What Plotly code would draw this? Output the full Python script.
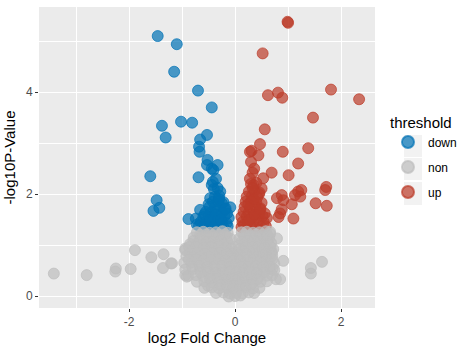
import plotly.graph_objects as go

# ---------------- data ----------------
down_x = [-1.46, -1.10, -1.15, -0.70, -0.44, -1.38, -1.31, -1.02, -0.81, -0.53,
          -0.66, -0.68, -0.67, -0.52, -1.60, -1.48, -1.54, -1.43, -0.88, -0.69,
          -0.44, -0.33, -0.53, -0.41, -0.44, -0.28, -0.47, -0.25, -0.09, -0.66,
          -0.42,
          -0.62, -0.52, -0.42, -0.32, -0.22, -0.14,
          -0.65, -0.55, -0.45, -0.35, -0.25, -0.16,
          -0.60, -0.50, -0.40, -0.30, -0.20, -0.12,
          -0.55, -0.45, -0.35, -0.25, -0.15,
          -0.48, -0.38, -0.28, -0.18,
          -0.42, -0.32, -0.22,
          -0.38, -0.30, -0.40, -0.33, -0.36, -0.72, -0.58,
          -0.74, -0.68, -0.57, -0.47, -0.37, -0.27, -0.19, -0.50, -0.30]
down_y = [5.10, 4.94, 4.40, 4.03, 3.70, 3.34, 3.11, 3.42, 3.40, 3.16,
          3.07, 2.93, 2.83, 2.67, 2.35, 1.88, 1.67, 1.73, 1.51, 2.33,
          2.50, 2.57, 2.57, 2.47, 2.18, 2.05, 1.92, 1.82, 1.74, 1.69,
          2.24,
          1.35, 1.33, 1.36, 1.34, 1.35, 1.37,
          1.45, 1.46, 1.44, 1.47, 1.45, 1.43,
          1.55, 1.56, 1.54, 1.55, 1.57, 1.53,
          1.65, 1.64, 1.66, 1.63, 1.62,
          1.75, 1.74, 1.76, 1.72,
          1.85, 1.86, 1.84,
          1.95, 1.97, 2.10, 2.12, 2.30, 1.40, 1.60,
          1.52, 1.38, 1.40, 1.50, 1.60, 1.50, 1.70, 1.80, 1.90]

up_x = [0.99, 1.00, 0.52, 0.62, 0.81, 0.89, 1.81, 2.34, 1.47, 0.56,
        0.47, 0.31, 0.44, 0.90, 1.38, 1.19, 0.30, 0.33, 0.69, 1.01,
        0.53, 0.50, 0.35, 1.72, 1.70, 1.19, 1.25, 1.13, 0.88, 0.79,
        0.91, 1.23, 1.07, 1.52, 1.73, 0.88, 0.85, 1.10, 0.82, 0.28,
        0.12, 0.20, 0.30, 0.40, 0.50, 0.58,
        0.14, 0.24, 0.34, 0.44, 0.54,
        0.12, 0.22, 0.32, 0.42, 0.52, 0.60,
        0.16, 0.26, 0.36, 0.46, 0.56,
        0.18, 0.28, 0.38, 0.48,
        0.20, 0.30, 0.40, 0.50,
        0.22, 0.32, 0.42,
        0.26, 0.36, 0.46,
        0.30, 0.40, 0.36, 0.28,
        0.17, 0.27, 0.37, 0.47, 0.25, 0.35, 0.45, 0.33]
up_y = [5.38, 5.36, 4.76, 3.94, 3.99, 3.89, 4.05, 3.86, 3.50, 3.27,
        2.98, 2.85, 2.76, 2.83, 2.90, 2.60, 2.63, 2.42, 2.42, 2.37,
        2.31, 2.11, 2.18, 2.14, 2.08, 2.05, 2.08, 1.98, 1.98, 1.92,
        1.88, 1.95, 1.80, 1.82, 1.77, 1.70, 1.62, 1.52, 1.55, 2.83,
        1.35, 1.34, 1.36, 1.33, 1.35, 1.37,
        1.45, 1.46, 1.44, 1.47, 1.45,
        1.55, 1.56, 1.54, 1.55, 1.57, 1.53,
        1.65, 1.64, 1.66, 1.63, 1.62,
        1.75, 1.74, 1.76, 1.72,
        1.85, 1.86, 1.84, 1.83,
        1.95, 1.97, 1.94,
        2.05, 2.06, 2.03,
        2.20, 2.22, 2.50, 2.30,
        1.40, 1.50, 1.60, 1.70, 1.80, 1.90, 2.00, 2.12]

non_x = [-3.42, -2.80, -2.25, -2.26, -1.97, -1.89, -1.58, -1.35, -1.36, -1.21,
         -0.94, -0.91, -0.51, 1.64, 1.43, 1.43, 0.91, 0.85, 0.77, 0.71,
         0.69, 0.79, 0.66, -1.19, -0.94,
         -0.72, -0.60, -0.48, -0.36, -0.24, -0.14, 0.12, 0.22, 0.34, 0.46, 0.58, 0.66,
         -0.78, -0.65, -0.52, -0.40, -0.28, -0.16, -0.08, 0.08, 0.18, 0.30, 0.42, 0.54, 0.64,
         -0.85, -0.72, -0.60, -0.46, -0.33, -0.20, -0.08, 0.07, 0.18, 0.30, 0.42, 0.55, 0.68,
         -0.94, -0.80, -0.66, -0.52, -0.38, -0.25, -0.12, -0.04, 0.04, 0.14, 0.26, 0.38, 0.50, 0.62, 0.72,
         -0.92, -0.78, -0.64, -0.50, -0.36, -0.22, -0.10, 0.00, 0.10, 0.22, 0.34, 0.46, 0.58, 0.70,
         -0.96, -0.82, -0.68, -0.54, -0.40, -0.26, -0.12, 0.02, 0.14, 0.28, 0.40, 0.52, 0.64, 0.74,
         -0.94, -0.80, -0.66, -0.52, -0.38, -0.24, -0.10, 0.04, 0.16, 0.30, 0.42, 0.54, 0.66, 0.74,
         -0.88, -0.74, -0.60, -0.46, -0.32, -0.18, -0.06, 0.06, 0.18, 0.32, 0.46, 0.60, 0.70,
         -0.72, -0.58, -0.44, -0.30, -0.16, -0.04, 0.08, 0.20, 0.34, 0.48, 0.60,
         -0.58, -0.44, -0.30, -0.16, -0.04, 0.08, 0.20, 0.34, 0.46,
         -0.36, -0.22, -0.10, 0.02, 0.14, 0.26, 0.36,
         -0.12, 0.00, 0.10,
         # in-between rows to fill the core of the cloud
         -0.66, -0.54, -0.42, -0.30, -0.19, 0.17, 0.28, 0.40, 0.52, 0.61,
         -0.79, -0.66, -0.53, -0.40, -0.27, -0.14, 0.13, 0.24, 0.36, 0.48, 0.60,
         -0.87, -0.73, -0.59, -0.45, -0.31, -0.18, -0.07, 0.08, 0.20, 0.32, 0.44, 0.56, 0.67,
         -0.85, -0.71, -0.57, -0.43, -0.29, -0.16, -0.05, 0.08, 0.21, 0.34, 0.46, 0.58, 0.69,
         -0.87, -0.73, -0.59, -0.45, -0.31, -0.17, -0.03, 0.10, 0.23, 0.36, 0.48, 0.60, 0.70,
         -0.81, -0.67, -0.53, -0.39, -0.25, -0.12, 0.00, 0.12, 0.25, 0.39, 0.53, 0.65,
         -0.65, -0.51, -0.37, -0.23, -0.10, 0.02, 0.14, 0.27, 0.41, 0.54,
         -0.47, -0.33, -0.19, -0.06, 0.06, 0.19, 0.31, 0.42,
         -0.28, -0.16, -0.04, 0.08, 0.20, 0.30]
non_y = [0.44, 0.41, 0.54, 0.48, 0.53, 0.90, 0.76, 0.82, 0.55, 0.64,
         0.93, 0.38, 0.20, 0.67, 0.55, 0.44, 0.69, 0.33, 0.33, 0.54,
         0.87, 1.13, 1.26, 0.64, 0.41,
         1.25, 1.26, 1.24, 1.25, 1.27, 1.24, 1.25, 1.26, 1.24, 1.25, 1.27, 1.22,
         1.15, 1.14, 1.16, 1.15, 1.13, 1.16, 1.12, 1.13, 1.15, 1.16, 1.14, 1.15, 1.13,
         1.02, 1.03, 1.01, 1.02, 1.04, 1.02, 0.98, 0.99, 1.02, 1.03, 1.01, 1.02, 1.04,
         0.90, 0.91, 0.89, 0.90, 0.92, 0.90, 0.88, 0.84, 0.85, 0.89, 0.90, 0.91, 0.89, 0.90, 0.92,
         0.78, 0.77, 0.79, 0.78, 0.76, 0.78, 0.77, 0.74, 0.76, 0.78, 0.79, 0.77, 0.78, 0.79,
         0.65, 0.66, 0.64, 0.65, 0.67, 0.65, 0.64, 0.63, 0.65, 0.66, 0.64, 0.65, 0.66, 0.64,
         0.52, 0.53, 0.51, 0.52, 0.54, 0.52, 0.51, 0.50, 0.52, 0.53, 0.51, 0.52, 0.53, 0.51,
         0.40, 0.41, 0.39, 0.40, 0.42, 0.40, 0.39, 0.38, 0.40, 0.41, 0.39, 0.40, 0.41,
         0.28, 0.29, 0.27, 0.28, 0.29, 0.27, 0.28, 0.29, 0.27, 0.28, 0.29,
         0.16, 0.17, 0.15, 0.16, 0.15, 0.16, 0.17, 0.15, 0.16,
         0.06, 0.07, 0.05, 0.06, 0.05, 0.07, 0.06,
         -0.01, 0.00, 0.01,
         1.20, 1.21, 1.19, 1.20, 1.21, 1.20, 1.19, 1.21, 1.20, 1.19,
         1.08, 1.09, 1.07, 1.08, 1.09, 1.06, 1.07, 1.08, 1.09, 1.07, 1.08,
         0.96, 0.97, 0.95, 0.96, 0.97, 0.95, 0.93, 0.92, 0.95, 0.96, 0.97, 0.95, 0.96,
         0.84, 0.85, 0.83, 0.84, 0.85, 0.83, 0.82, 0.81, 0.83, 0.84, 0.85, 0.83, 0.84,
         0.71, 0.72, 0.70, 0.71, 0.72, 0.70, 0.69, 0.69, 0.71, 0.72, 0.70, 0.71, 0.72,
         0.58, 0.59, 0.57, 0.58, 0.59, 0.57, 0.56, 0.57, 0.58, 0.59, 0.57, 0.58,
         0.46, 0.47, 0.45, 0.46, 0.47, 0.45, 0.46, 0.47, 0.45, 0.46,
         0.34, 0.35, 0.33, 0.34, 0.33, 0.35, 0.34, 0.33,
         0.22, 0.23, 0.21, 0.22, 0.21, 0.23]

x_ticks = [-2, 0, 2]
x_tick_labels = ["-2", "0", "2"]
y_ticks = [0, 2, 4]
y_tick_labels = ["0", "2", "4"]

FONT = "Arial, 'Liberation Sans', sans-serif"

def scatter(name, xs, ys, rgb, rank):
    fill = f"rgba({rgb},0.7)"
    return go.Scatter(
        x=xs, y=ys, mode="markers", name=name, legendgroup=name, legendrank=rank,
        marker=dict(size=11, color=fill, line=dict(color=fill, width=1)),
    )

fig = go.Figure()
fig.add_trace(scatter("down", down_x, down_y, "0,114,181", 1))
fig.add_trace(scatter("up", up_x, up_y, "188,60,41", 3))
fig.add_trace(scatter("non", non_x, non_y, "190,190,190", 2))

axis_common = dict(
    showline=False, zeroline=False, gridcolor="white", gridwidth=1.1,
    ticks="outside", ticklen=3, tickwidth=1, tickcolor="#333333",
    tickfont=dict(family=FONT, size=12, color="#4D4D4D"),
)
fig.update_xaxes(
    range=[-3.70, 2.64], tickvals=x_ticks, ticktext=x_tick_labels,
    minor=dict(dtick=1, tick0=1, showgrid=True, gridcolor="white", gridwidth=0.55, ticks=""),
    title=dict(text="log2 Fold Change", font=dict(family=FONT, size=15, color="black"), standoff=4),
    **axis_common,
)
fig.update_yaxes(
    range=[-0.235, 5.67], tickvals=y_ticks, ticktext=y_tick_labels,
    minor=dict(dtick=1, tick0=1, showgrid=True, gridcolor="white", gridwidth=0.55, ticks=""),
    title=dict(text="-log10P-Value", font=dict(family=FONT, size=15, color="black"), standoff=6),
    **axis_common,
)

# legend key background boxes (ggplot-style), placed in paper coordinates
key_boxes = [(0.5748, 0.5017), (0.4983, 0.4252), (0.4186, 0.3422)]
for top, bottom in key_boxes:
    fig.add_shape(type="rect", xref="paper", yref="paper",
                  x0=1.0863, x1=1.1399, y0=bottom, y1=top,
                  fillcolor="#F2F2F2", line=dict(width=0), layer="below")

fig.update_layout(
    width=472, height=355,
    margin=dict(l=39, r=97, t=7, b=47, autoexpand=False),
    paper_bgcolor="white", plot_bgcolor="#EBEBEB",
    font=dict(family=FONT),
    legend=dict(
        title=dict(text="threshold", font=dict(family=FONT, size=15, color="black")),
        font=dict(family=FONT, size=12, color="black"),
        x=1.0387, xanchor="left", y=0.5, yanchor="middle",
        traceorder="grouped", tracegroupgap=6, itemsizing="constant",
        bgcolor="rgba(0,0,0,0)",
    ),
)

fig.write_html("out.html", config={"displayModeBar": False},
               post_script="document.body.style.margin='0px';")
